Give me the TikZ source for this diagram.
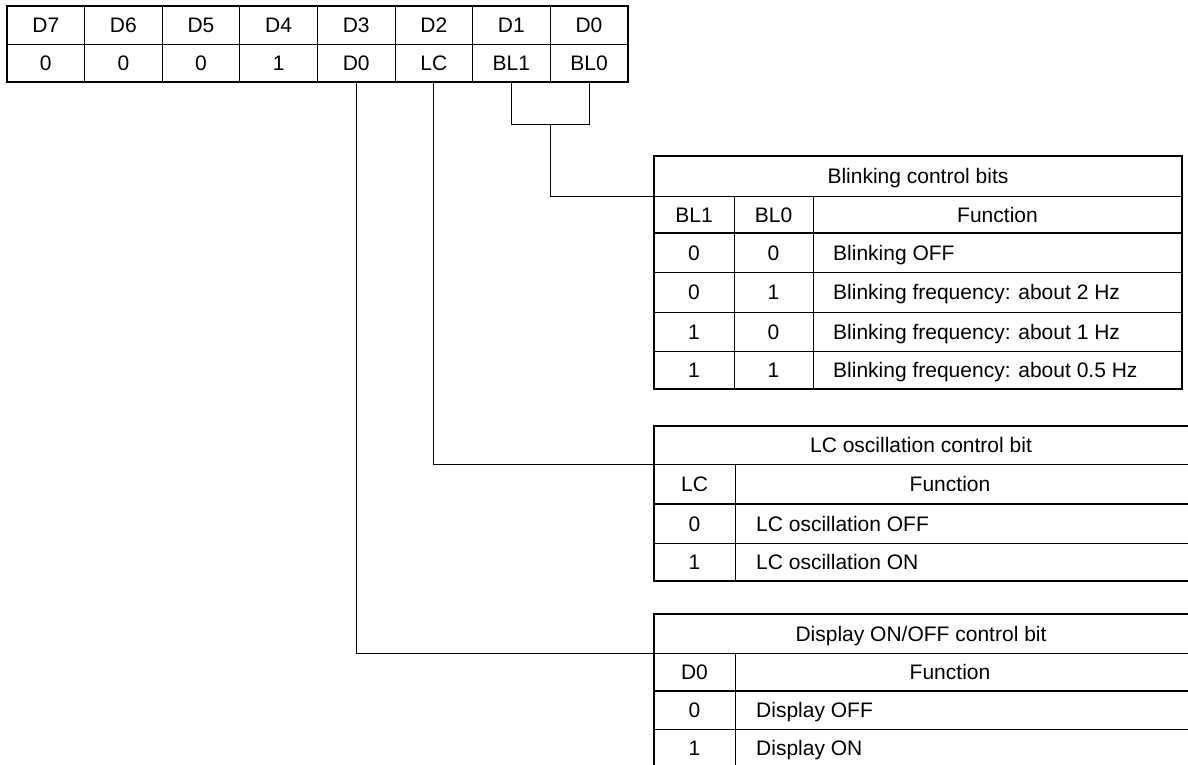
\documentclass[tikz,border=0pt]{standalone}
\usepackage{fontspec}
\setmainfont{Liberation Sans}
\usetikzlibrary{calc}
\begin{document}
\begin{tikzpicture}[x=1pt,y=-1pt,
  thk/.style={line width=2.2pt},
  thn/.style={line width=0.9pt},
  conn/.style={line width=0.9pt},
  txt/.style={inner sep=0pt,text height=15pt,text depth=0pt,font=\fontsize{21}{25}\selectfont},
  ltxt/.style={txt,anchor=west}]
\useasboundingbox (0,0) rectangle (1188,765);
\clip (0,0) rectangle (1188,765);
% ---------- register table ----------
\foreach \i in {1,...,7} \draw[thn] ({7+77.6*\i},6) -- ({7+77.6*\i},82);
\draw[thn] (7,44) -- (627.8,44);
\draw[thk] (7,6) rectangle (627.8,82);
\foreach \lab/\val [count=\i from 0] in {D7/0,D6/0,D5/0,D4/1,D3/D0,D2/LC,D1/BL1,D0/BL0}{
  \node[txt] (h\i) at ({7+77.6*\i+38.8},25) {\lab};
  \node[txt] (v\i) at ({7+77.6*\i+38.8},63) {\val};
}
\coordinate (tb) at (0,82);
% ---------- blinking table ----------
\draw[thn] (654,196) -- (1182,196);
\draw[thn] (654,272) -- (1182,272);
\draw[thn] (654,312) -- (1182,312);
\draw[thn] (654,351) -- (1182,351);
\draw[thn] (734,196) -- (734,389);
\draw[thn] (813,196) -- (813,389);
\draw[thk] (654,233) -- (1182,233);
\draw[thk] (654,156) rectangle (1182,389);
\coordinate (bw) at (654,196);
\node[txt] (btitle) at (918,176) {Blinking control bits};
\node[txt] (bh1) at (694,214.5) {BL1};
\node[txt] (bh0) at (773.5,214.5) {BL0};
\node[txt] (bhf) at (997.5,214.5) {Function};
\foreach \a/\b/\f/\y in {0/0/Blinking OFF/252.5, 0/1/Blinking frequency: about 2 Hz/292, 1/0/Blinking frequency: about 1 Hz/331.5, 1/1/Blinking frequency: about 0.5 Hz/370}{
  \node[txt] at (694,\y) {\a};
  \node[txt] at (773.5,\y) {\b};
  \node[ltxt] at (833,\y) {\f};
}
% ---------- LC table ----------
\draw[thn] (654,464) -- (1200,464);
\draw[thn] (654,543) -- (1200,543);
\draw[thn] (735,464) -- (735,581);
\draw[thk] (654,504) -- (1200,504);
\draw[thk] (1200,426) -- (654,426) -- (654,581) -- (1200,581);
\coordinate (lw) at (654,464);
\node[txt] (ltitle) at (921,445) {LC oscillation control bit};
\node[txt] (lh) at (694.5,484) {LC};
\node[txt] (lhf) at (950,484) {Function};
\node[txt] at (694.5,523.5) {0};
\node[ltxt] at (756,523.5) {LC oscillation OFF};
\node[txt] at (694.5,562) {1};
\node[ltxt] at (756,562) {LC oscillation ON};
% ---------- Display table ----------
\draw[thn] (654,653) -- (1200,653);
\draw[thn] (654,729) -- (1200,729);
\draw[thn] (735,653) -- (735,790);
\draw[thk] (654,691) -- (1200,691);
\draw[thk] (1200,614) -- (654,614) -- (654,790);
\coordinate (dw) at (654,653);
\node[txt] (dtitle) at (921,633.5) {Display ON/OFF control bit};
\node[txt] (dh) at (694.5,672) {D0};
\node[txt] (dhf) at (950,672) {Function};
\node[txt] at (694.5,710) {0};
\node[ltxt] at (756,710) {Display OFF};
\node[txt] at (694.5,748) {1};
\node[ltxt] at (756,748) {Display ON};
% ---------- connectors ----------
\coordinate (brk) at (0,124);
\draw[conn] (v6 |- tb) -- (v6 |- brk) -- (v7 |- brk) -- (v7 |- tb);
\coordinate (brm) at ($(v6 |- brk)!0.5!(v7 |- brk)$);
\draw[conn] (brm) |- (bw);
\draw[conn] (v5 |- tb) |- (lw);
\draw[conn] (v4 |- tb) |- (dw);
\end{tikzpicture}
\end{document}
